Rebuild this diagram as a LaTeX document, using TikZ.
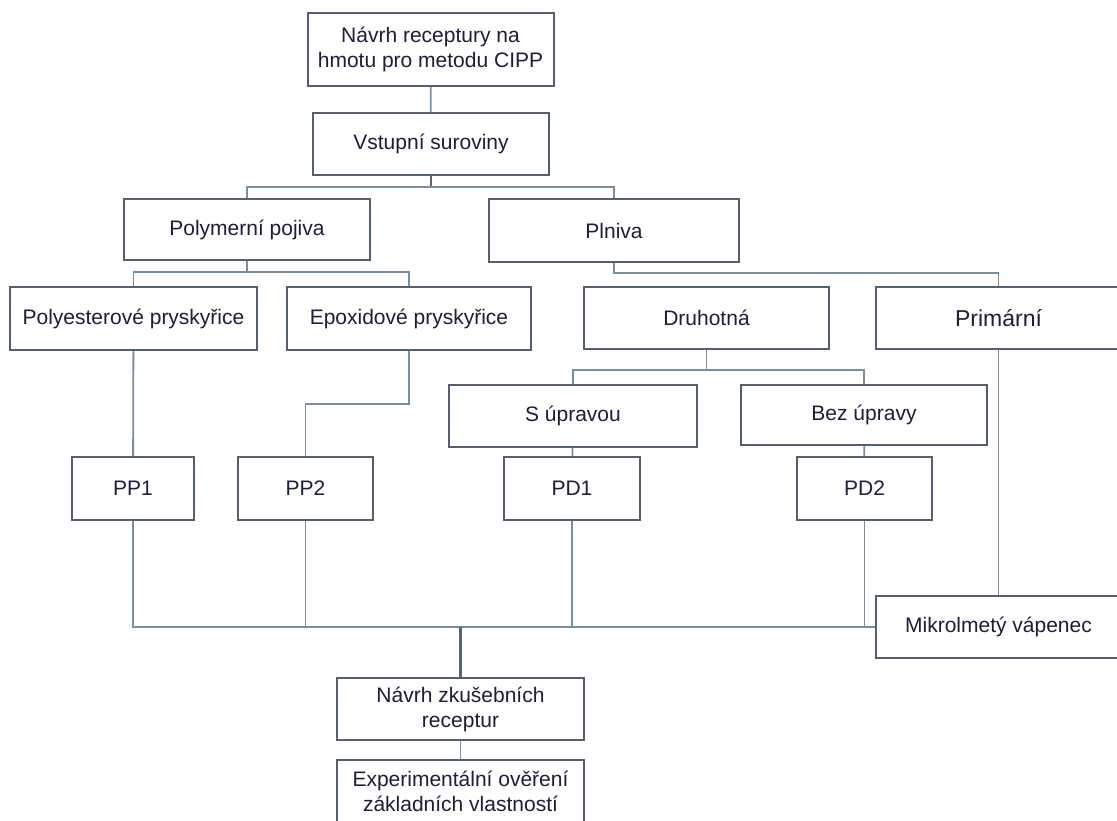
\documentclass[tikz,border=0pt]{standalone}
\usepackage{fontspec}
\setmainfont{Liberation Sans}
\usetikzlibrary{positioning, calc}
\definecolor{boxgrey}{RGB}{84, 96, 110}
\definecolor{linkgrey}{RGB}{122, 142, 162}
\definecolor{textnavy}{RGB}{28, 30, 58}
\tikzset{
  stepbox/.style={
    draw=boxgrey,
    line width=2pt,
    fill=white,
    minimum width=246pt,
    minimum height=62pt,
    inner sep=2pt,
    align=center,
    text=textnavy,
    font=\fontsize{21}{25}\selectfont
  },
  smallbox/.style={
    stepbox,
    minimum width=135pt,
    minimum height=63pt
  },
  link/.style={
    draw=linkgrey,
    line width=1.8pt
  },
  trunk/.style={
    draw=boxgrey!90!linkgrey,
    line width=2.8pt
  }
}
\begin{document}
\begin{tikzpicture}[x=1pt, y=-1pt]
          \useasboundingbox (0,0) rectangle (1117,820);
          \node[stepbox, minimum height=73pt] (cipp) at (430.5, 49.5) {N\'avrh receptury na\\hmotu pro metodu CIPP};
          \node[stepbox, minimum width=236pt] (vstup) at (431, 144) {Vstupn\'i suroviny};
          \node[stepbox, minimum height=61pt] (polym) at (247, 229.5) {Polymern\'i pojiva};
          \node[stepbox, minimum width=250pt, minimum height=63pt] (plniva) at (614, 230.5) {Plniva};
          \node[stepbox, minimum width=247pt, minimum height=63pt] (polyest) at (133.5, 318.5) {Polyesterov\'e prysky\v{r}ice};
          \node[stepbox, minimum width=244pt, minimum height=63pt] (epox) at (409, 318.5) {Epoxidov\'e prysky\v{r}ice};
          \node[stepbox, minimum width=245pt] (druh) at (706.5, 318) {Druhotn\'a};
          \node[stepbox, minimum width=245pt, font=\fontsize{23}{26}\selectfont] (prim) at (998.5, 318) {Prim\'arn\'i};
          \node[stepbox, minimum width=248pt] (supr) at (573, 416) {S \'upravou};
          \node[stepbox, minimum height=60pt] (bezupr) at (864, 415) {Bez \'upravy};
          \node[smallbox, minimum width=122pt] (pp1) at (133, 488.5) {PP1};
          \node[smallbox] (pp2) at (305.5, 488.5) {PP2};
          \node[smallbox, minimum width=136pt] (pd1) at (572, 488.5) {PD1};
          \node[smallbox] (pd2) at (864.5, 488.5) {PD2};
          \node[stepbox, minimum width=245pt] (mikro) at (998.5, 627) {Mikrolmet\'y v\'apenec};
          \node[stepbox, minimum width=247pt] (zkus) at (460.5, 709) {N\'avrh zku\v{s}ebn\'ich\\receptur};
          \node[stepbox, minimum width=247pt] (exper) at (460.5, 791) {Experiment\'aln\'i ov\v{e}\v{r}en\'i\\z\'akladn\'ich vlastnost\'i};

          \coordinate (jvstup) at (431, 187);
          \coordinate (jpolym) at (247, 272);
          \coordinate (jdruh) at (706.5, 370);
          \coordinate (jzkus) at (460.5, 627);

          \draw[link] (cipp) -- (vstup);
          \draw[trunk] (vstup.south) -- (jvstup);
          \draw[link] (polym.north) |- (jvstup) -| (plniva.north);
          \draw[link] (polym.south) -- (jpolym);
          \draw[link] (polyest.north) |- (jpolym) -| (epox.north);
          \draw[link] (plniva.south) -- ++(0, 10) -| (prim.north);
          \draw[link] (druh.south) -- (jdruh);
          \draw[link] (supr.north) |- (jdruh) -| (bezupr.north);
          \draw[link] (polyest) -- (pp1);
          \draw[link] (epox.south) -- ++(0, 53) -| (pp2.north);
          \draw[link] (supr) -- (pd1);
          \draw[link] (bezupr) -- (pd2);
          \draw[link] (prim) -- (mikro);
          \draw[link] (pp1.south) |- (mikro.west);
          \draw[link] (pp2.south) -- (pp2.south |- jzkus);
          \draw[link] (pd1.south) -- (pd1.south |- jzkus);
          \draw[link] (pd2.south) -- (pd2.south |- jzkus);
          \draw[trunk] (jzkus) -- (zkus.north);
          \draw[link] (zkus) -- (exper);
        \end{tikzpicture}
\end{document}
